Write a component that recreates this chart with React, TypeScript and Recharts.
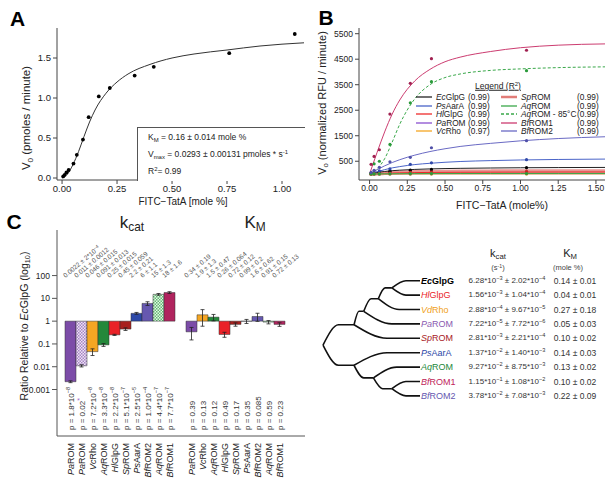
import React from "react";
import {
  ComposedChart,
  LineChart,
  BarChart,
  Line,
  Scatter,
  Bar,
  Cell,
  XAxis,
  YAxis,
  ErrorBar,
} from "recharts";

const FONT = "'Liberation Sans', Arial, Helvetica, sans-serif";

// ---------- panel A: single enzyme kinetics ----------
const aSubstrate = [0.005, 0.012, 0.02, 0.03, 0.052, 0.067, 0.095, 0.121, 0.167, 0.217, 0.33, 0.417, 0.76, 1.058];
const aRate = [0.02, 0.04, 0.07, 0.1, 0.18, 0.29, 0.48, 0.76, 1.02, 1.125, 1.28, 1.39, 1.56, 1.8];
const aFitX = [0, 0.025, 0.05, 0.075, 0.1, 0.125, 0.15, 0.2, 0.25, 0.3, 0.4, 0.5, 0.6, 0.75, 0.9, 1.1];
const aFitY = [0, 0.05, 0.17, 0.33, 0.52, 0.7, 0.85, 1.06, 1.2, 1.3, 1.42, 1.5, 1.55, 1.6, 1.65, 1.69];
const aTicksX = [0, 0.25, 0.5, 0.75, 1];
const aTicksY = [0, 0.5, 1, 1.5];

// ---------- panel B: all rhomboids ----------
const bSubstrate = [0.01, 0.03, 0.065, 0.135, 0.27, 0.41, 1.04];
const bFitX = [0, 0.05, 0.1, 0.15, 0.2, 0.3, 0.4, 0.5, 0.6, 0.8, 1.0, 1.25, 1.56];
const bTicksX = [0, 0.25, 0.5, 0.75, 1, 1.25, 1.5];
const bTicksY = [0, 500, 1000, 1500, 2000, 2500, 3000, 3500, 4000, 4500, 5000, 5500];

const bEcGlpGPts = [15, 30, 60, 110, 150, 180, 250];
const bEcGlpGFit = [0, 60, 100, 130, 150, 180, 200, 213, 222, 235, 245, 252, 258];
const bPsAarAPts = [20, 60, 120, 200, 380, 440, 560];
const bPsAarAFit = [0, 90, 170, 240, 290, 370, 420, 460, 490, 525, 550, 570, 585];
const bHlGlpGPts = [5, 10, 20, 40, 60, 70, 80];
const bHlGlpGFit = [0, 15, 28, 38, 45, 55, 62, 66, 69, 73, 76, 78, 80];
const bPaROMPts = [0, 2, 3, 5, 5, 8, 10];
const bPaROMFit = [0, 2, 3, 4, 5, 6, 7, 7, 8, 8, 9, 9, 9];
const bVcRhoPts = [0, 1, 2, 3, 4, 5, 5];
const bVcRhoFit = [0, 1, 2, 2, 3, 3, 3, 4, 4, 4, 4, 4, 4];
const bSpROMPts = [5, 15, 30, 50, 70, 90, 110];
const bSpROMFit = [0, 20, 35, 50, 60, 75, 85, 92, 97, 103, 107, 110, 112];
const bAqROMPts = [0, 5, 5, 10, 15, 20, 20];
const bAqROMFit = [0, 5, 8, 10, 12, 15, 17, 18, 19, 20, 21, 22, 22];
const bAqROM85Pts = [30, 400, 500, 1160, 2790, 3620, 4050];
const bAqROM85Fit = [0, 200, 600, 1250, 1950, 2950, 3500, 3780, 3920, 4060, 4120, 4170, 4200];
const bBfROM1Pts = [380, 690, 950, 2350, 3555, 4520, 4850];
const bBfROM1Fit = [0, 850, 1650, 2350, 2900, 3650, 4100, 4400, 4580, 4800, 4950, 5050, 5100];
const bBfROM2Pts = [60, 145, 260, 480, 655, 1030, 1305];
const bBfROM2Fit = [0, 170, 320, 450, 560, 740, 880, 990, 1080, 1200, 1300, 1390, 1460];

const bSeries = [
  { name: "SpROM", r2: "(0.99)", color: "#e27d79", dot: "#c0504a", w: 4, dash: undefined, pts: bSpROMPts, fit: bSpROMFit },
  { name: "EcGlpG", r2: "(0.99)", color: "#222222", dot: "#000000", w: 1, dash: undefined, pts: bEcGlpGPts, fit: bEcGlpGFit },
  { name: "PsAarA", r2: "(0.99)", color: "#4a64c8", dot: "#3048a8", w: 1, dash: undefined, pts: bPsAarAPts, fit: bPsAarAFit },
  { name: "HlGlpG", r2: "(0.99)", color: "#ee2a2a", dot: "#d02020", w: 1, dash: undefined, pts: bHlGlpGPts, fit: bHlGlpGFit },
  { name: "PaROM", r2: "(0.99)", color: "#8a4fd0", dot: "#7040b0", w: 1, dash: undefined, pts: bPaROMPts, fit: bPaROMFit },
  { name: "VcRho", r2: "(0.97)", color: "#f5a623", dot: "#e09010", w: 1, dash: undefined, pts: bVcRhoPts, fit: bVcRhoFit },
  { name: "AqROM", r2: "(0.99)", color: "#3aa84a", dot: "#2a9a3a", w: 1, dash: undefined, pts: bAqROMPts, fit: bAqROMFit },
  { name: "AqROM - 85°C", r2: "(0.99)", color: "#3aa84a", dot: "#2a9a3a", w: 1, dash: "3 2", pts: bAqROM85Pts, fit: bAqROM85Fit },
  { name: "BfROM1", r2: "(0.99)", color: "#cc3c70", dot: "#a02050", w: 1, dash: undefined, pts: bBfROM1Pts, fit: bBfROM1Fit },
  { name: "BfROM2", r2: "(0.99)", color: "#6a6ac4", dot: "#5050a8", w: 1, dash: undefined, pts: bBfROM2Pts, fit: bBfROM2Fit },
];
const bLegendLeft = ["EcGlpG", "PsAarA", "HlGlpG", "PaROM", "VcRho"];
const bLegendRight = ["SpROM", "AqROM", "AqROM - 85°C", "BfROM1", "BfROM2"];

// ---------- panel C: ratios relative to EcGlpG ----------
const kcatNames = ["PaROM", "PaROM", "VcRho", "AqROM", "HlGlpG", "SpROM", "PsAarA", "BfROM2", "AqROM", "BfROM1"];
const kcatHatched = [false, true, false, false, false, false, false, false, true, false];
const kcatRatio = [0.0022, 0.011, 0.046, 0.091, 0.25, 0.45, 2.2, 6, 15, 18];
const kcatErr = [0.0002, 0.0012, 0.015, 0.013, 0.015, 0.059, 0.21, 1.1, 1.3, 1.6];
const kcatLabels = [
  "0.0022 ± 2*10^-4", "0.011 ± 0.0012", "0.046 ± 0.015", "0.091 ± 0.013", "0.25 ± 0.015",
  "0.45 ± 0.059", "2.2 ± 0.21", "6 ± 1.1", "15 ± 1.3", "18 ± 1.6",
];
const kcatP = [
  "p = 1.8*10^-8", "p = 0.02", "p = 7.2*10^-8", "p = 3.3*10^-8", "p = 2.2*10^-8",
  "p = 5.1*10^-7", "p = 2.5*10^-5", "p = 1.0*10^-4", "p = 4.4*10^-7", "p = 7.7*10^-7",
];
const kmNames = ["PaROM", "VcRho", "AqROM", "HlGlpG", "SpROM", "PsAarA", "BfROM2", "AqROM", "BfROM1"];
const kmHatched = [false, false, false, false, false, false, false, true, false];
const kmRatio = [0.34, 1.9, 1.5, 0.26, 0.72, 0.99, 1.6, 0.91, 0.72];
const kmErr = [0.19, 1.3, 0.47, 0.064, 0.12, 0.2, 0.62, 0.15, 0.13];
const kmLabels = [
  "0.34 ± 0.19", "1.9 ± 1.3", "1.5 ± 0.47", "0.26 ± 0.064", "0.72 ± 0.12",
  "0.99 ± 0.2", "1.6 ± 0.62", "0.91 ± 0.15", "0.72 ± 0.13",
];
const kmP = ["p = 0.39", "p = 0.13", "p = 0.12", "p = 0.49", "p = 0.17", "p = 0.35", "p = 0.085", "p = 0.59", "p = 0.23"];
const cTicks = [-3, -2, -1, 0, 1, 2];
const cTickText: Record<number, string> = { "-3": "0.001", "-2": "0.01", "-1": "0.1", "0": "1", "1": "10", "2": "100" };

const enzymeColor: Record<string, string> = {
  PaROM: "#7c4ca8",
  VcRho: "#f5a623",
  AqROM: "#24883a",
  HlGlpG: "#ea2228",
  SpROM: "#a8201e",
  PsAarA: "#2c48a8",
  BfROM2: "#6658b0",
  BfROM1: "#b0245e",
};
const hatchFill: Record<string, string> = { PaROM: "url(#hatchPurple)", AqROM: "url(#hatchGreen)" };

// ---------- panel D: tree + constants ----------
const dNames = ["EcGlpG", "HlGlpG", "VdRho", "PaROM", "SpROM", "PsAarA", "AqROM", "BfROM1", "BfROM2"];
const dColors = ["#000000", "#ea2228", "#f0a020", "#8a5ab0", "#a8201e", "#2c48a8", "#24883a", "#c0245a", "#6658b0"];
const dKcat = [
  "6.28*10^-3 ± 2.02*10^-4", "1.56*10^-3 ± 1.04*10^-4", "2.88*10^-4 ± 9.67*10^-5",
  "7.22*10^-5 ± 7.72*10^-6", "2.81*10^-3 ± 2.21*10^-4", "1.37*10^-2 ± 1.40*10^-3",
  "9.27*10^-2 ± 8.75*10^-3", "1.15*10^-1 ± 1.08*10^-2", "3.78*10^-2 ± 7.08*10^-3",
];
const dKm = ["0.14 ± 0.01", "0.04 ± 0.01", "0.27 ± 0.18", "0.05 ± 0.03", "0.10 ± 0.02", "0.14 ± 0.03", "0.13 ± 0.02", "0.10 ± 0.02", "0.22 ± 0.09"];

type TreeNode = { d: number; c: (TreeNode | number)[] };
const treeRoot: TreeNode = {
  d: 0,
  c: [
    { d: 1.6, c: [{ d: 2.1, c: [{ d: 2.85, c: [{ d: 3.55, c: [0, 1] }, 2] }, 3] }, 4] },
    { d: 1.6, c: [5, { d: 2.6, c: [6, { d: 3.55, c: [7, 8] }] }] },
  ],
};
const LEAF_DEPTH = 5;

// ---------- helpers ----------
const splitExp = (t: string) => t.split(/\^(-?\d+)/);
const SUB = { fontSize: "0.7em", verticalAlign: "-0.3em", lineHeight: 0 };
const SUP = { fontSize: "0.7em", verticalAlign: "0.45em", lineHeight: 0 };

function HtmlRich({ t }: { t: string }) {
  return (
    <>
      {splitExp(t).map((p, i) =>
        i % 2 ? (
          <sup key={i} style={SUP}>{p.replace("-", "−")}</sup>
        ) : (
          <React.Fragment key={i}>{p}</React.Fragment>
        )
      )}
    </>
  );
}

function svgRich(t: string, fs: number) {
  const out: any[] = [];
  splitExp(t).forEach((p, i) => {
    if (i % 2) {
      out.push(<tspan key={i} dy={-fs * 0.35} fontSize={fs * 0.7}>{p.replace("-", "−")}</tspan>);
    } else {
      out.push(<tspan key={i} dy={i > 0 ? fs * 0.35 : 0}>{p}</tspan>);
    }
  });
  return out;
}

const Species = ({ n }: { n: string }) => (
  <>
    <i>{n.slice(0, 2)}</i>
    {n.slice(2)}
  </>
);

function Txt({ x, y, children, size = 10, anchor = "start", rotate = 0, style = {} }: any) {
  const tx = anchor === "middle" ? "-50%" : anchor === "end" ? "-100%" : "0";
  return (
    <div
      style={{
        position: "absolute",
        left: x,
        top: y,
        fontSize: size,
        lineHeight: 1,
        whiteSpace: "nowrap",
        color: "#222",
        transform: `translate(${tx}, -50%) rotate(${rotate}deg)`,
        transformOrigin: anchor === "middle" ? "50% 50%" : "0 50%",
        ...style,
      }}
    >
      {children}
    </div>
  );
}

const tickStyle = (fs: number) => ({ fontSize: fs, fill: "#222", fontFamily: FONT });

// ---------- panels ----------
function PanelA() {
  const pts = aSubstrate.map((x, i) => ({ x, y: aRate[i] }));
  const fit = aFitX.map((x, i) => ({ x, y: aFitY[i] }));
  return (
    <div style={{ position: "absolute", left: 0, top: 0 }}>
      <ComposedChart width={310} height={215} margin={{ top: 28, right: 6, bottom: 15, left: 17 }}>
        <XAxis type="number" dataKey="x" domain={[-0.023, 1.1]} allowDataOverflow ticks={aTicksX}
          tickFormatter={(v: number) => v.toFixed(2)} height={20} tickSize={4} tickMargin={1}
          tick={tickStyle(9.5)} stroke="#444" />
        <YAxis type="number" dataKey="y" domain={[-0.025, 1.875]} allowDataOverflow ticks={aTicksY}
          tickFormatter={(v: number) => v.toFixed(1)} width={40} tickSize={4} tickMargin={2}
          tick={tickStyle(9.5)} stroke="#444" />
        <XAxis xAxisId="top" orientation="top" type="number" domain={[0, 1]} height={0} tick={false} tickLine={false} stroke="#444" />
        <YAxis yAxisId="right" orientation="right" type="number" domain={[0, 1]} width={0} tick={false} tickLine={false} stroke="#444" />
        <Line data={fit} dataKey="y" type="monotone" dot={false} stroke="#333" strokeWidth={1} isAnimationActive={false} />
        <Scatter data={pts} dataKey="y" isAnimationActive={false}
          shape={(p: any) => <circle cx={p.cx} cy={p.cy} r={1.9} fill="#000" />} />
      </ComposedChart>
    </div>
  );
}

function PanelB() {
  return (
    <div style={{ position: "absolute", left: 310, top: 0 }}>
      <ComposedChart width={304} height={215} margin={{ top: 28, right: 9, bottom: 15, left: 13 }}>
        <XAxis type="number" dataKey="x" domain={[-0.07, 1.56]} allowDataOverflow ticks={bTicksX}
          tickFormatter={(v: number) => v.toFixed(2)} height={20} tickSize={4} tickMargin={1}
          tick={tickStyle(8.5)} stroke="#444" />
        <YAxis type="number" dataKey="y" domain={[-235, 5723]} allowDataOverflow ticks={bTicksY}
          width={36} tickSize={4} tickMargin={2} tick={tickStyle(8.5)} stroke="#444" />
        <XAxis xAxisId="top" orientation="top" type="number" domain={[0, 1]} height={0} tick={false} tickLine={false} stroke="#444" />
        <YAxis yAxisId="right" orientation="right" type="number" domain={[0, 1]} width={0} tick={false} tickLine={false} stroke="#444" />
        {bSeries.map((s) => (
          <Line key={"l" + s.name} data={bFitX.map((x, i) => ({ x, y: s.fit[i] }))} dataKey="y" type="monotone"
            dot={false} stroke={s.color} strokeWidth={s.w} strokeOpacity={s.w > 1 ? 0.8 : 1}
            strokeDasharray={s.dash} isAnimationActive={false} />
        ))}
        {bSeries.map((s) => (
          <Scatter key={"p" + s.name} data={bSubstrate.map((x, i) => ({ x, y: s.pts[i] }))} dataKey="y"
            isAnimationActive={false}
            shape={(p: any) => <circle cx={p.cx} cy={p.cy} r={1.6} fill={s.dot} />} />
        ))}
      </ComposedChart>
    </div>
  );
}

function LegendRow({ s, x, y, r2x }: any) {
  return (
    <>
      <svg style={{ position: "absolute", left: x, top: y - 3 }} width={16} height={6}>
        <line x1={0} y1={3} x2={16} y2={3} stroke={s.color} strokeWidth={s.w > 1 ? 2.5 : 1.3} strokeDasharray={s.dash} />
      </svg>
      <Txt x={x + 20} y={y} size={8.3}><Species n={s.name} /></Txt>
      <Txt x={r2x} y={y} size={8.3}>{s.r2}</Txt>
    </>
  );
}

const cRows = [
  ...kcatNames.map((n, i) => ({
    key: "k" + i, name: n, ratio: kcatRatio[i], err: kcatErr[i], label: kcatLabels[i], p: kcatP[i],
    star: i === 1, fill: kcatHatched[i] ? hatchFill[n] : enzymeColor[n],
  })),
  { key: "gap", name: "", ratio: null as any, err: 0, label: "", p: "", star: false, fill: "none" },
  ...kmNames.map((n, i) => ({
    key: "m" + i, name: n, ratio: kmRatio[i], err: kmErr[i], label: kmLabels[i], p: kmP[i],
    star: false, fill: kmHatched[i] ? hatchFill[n] : enzymeColor[n],
  })),
].map((r) => ({
  ...r,
  logv: r.ratio == null ? null : Math.log10(r.ratio),
  errLog: r.ratio == null ? [0, 0] : [Math.log10(r.ratio) - Math.log10(r.ratio - r.err), Math.log10(r.ratio + r.err) - Math.log10(r.ratio)],
}));
const cByKey: Record<string, any> = Object.fromEntries(cRows.map((r) => [r.key, r]));

// draws, per category: the value label above the bars, the p-value inside the box and the name below it
function CTick(props: any) {
  const { x, y, payload } = props;
  const r = cByKey[payload.value];
  if (!r || !r.name) return null;
  const ny = y + 7;
  const py = y - 6;
  const lx = x - 5;
  const ly = y - 158;
  return (
    <g fontFamily={FONT}>
      <text x={x} y={ny} transform={`rotate(-90 ${x} ${ny})`} textAnchor="end" dominantBaseline="central" fontSize={9} fill="#222">
        <tspan fontStyle="italic">{r.name.slice(0, 2)}</tspan>
        <tspan>{r.name.slice(2)}</tspan>
      </text>
      <text x={x} y={py} transform={`rotate(-90 ${x} ${py})`} textAnchor="start" dominantBaseline="central" fontSize={8} fill="#333">
        {svgRich(r.p, 8)}
        {r.star ? <tspan dy={-3} fill="#9a5ac8" fontSize={7}>*</tspan> : null}
      </text>
      <text x={lx} y={ly} transform={`rotate(-40 ${lx} ${ly})`} textAnchor="start" fontSize={6.5} fill="#555">
        {svgRich(r.label, 6.5)}
      </text>
    </g>
  );
}

function PanelC() {
  return (
    <div style={{ position: "absolute", left: 0, top: 215 }}>
      <BarChart width={310} height={270} data={cRows} margin={{ top: 15, right: 5, bottom: 0, left: 0 }}
        barCategoryGap={0} barGap={0}>
        <defs>
          <pattern id="hatchPurple" width="3" height="3" patternUnits="userSpaceOnUse">
            <rect width="3" height="3" fill="#efe4f5" />
            <rect width="1.5" height="1.5" fill="#a585c5" />
            <rect x="1.5" y="1.5" width="1.5" height="1.5" fill="#a585c5" />
          </pattern>
          <pattern id="hatchGreen" width="3" height="3" patternUnits="userSpaceOnUse">
            <rect width="3" height="3" fill="#e4f6e6" />
            <rect width="1.5" height="1.5" fill="#62b872" />
            <rect x="1.5" y="1.5" width="1.5" height="1.5" fill="#62b872" />
          </pattern>
        </defs>
        <XAxis dataKey="key" type="category" interval={0} height={49} padding={{ left: 8, right: 20 }}
          tickSize={0} tickMargin={0} tickLine={false} stroke="#555" tick={CTick} />
        <XAxis xAxisId="top" orientation="top" type="number" domain={[0, 1]} height={0}
          tick={false} tickLine={false} stroke="#555" />
        <YAxis type="number" domain={[-5.04, 4.0]} allowDataOverflow ticks={cTicks} width={57}
          tickFormatter={(v: number) => cTickText[v] ?? ""} tickSize={5} tickMargin={2}
          tick={tickStyle(8.5)} stroke="#555" />
        <YAxis yAxisId="right" orientation="right" type="number" domain={[0, 1]} width={0} tick={false} tickLine={false} stroke="#555" />
        <Bar dataKey="logv" isAnimationActive={false} stroke="#333" strokeWidth={0.5}>
          {cRows.map((r) => (
            <Cell key={r.key} fill={r.fill} />
          ))}
          <ErrorBar dataKey="errLog" direction="y" width={2} stroke="#222" strokeWidth={0.8} />
        </Bar>
      </BarChart>
    </div>
  );
}

function PanelDTree() {
  const edges: { x: number; y: number }[][] = [];
  const place = (node: TreeNode): { x: number; y: number } => {
    const kids = node.c.map((ch) => (typeof ch === "number" ? { x: LEAF_DEPTH, y: ch } : place(ch)));
    const y = kids.reduce((a, k) => a + k.y, 0) / kids.length;
    kids.forEach((k) =>
      edges.push([{ x: node.d, y }, { x: node.d + 0.5 * (k.x - node.d), y: k.y }, { x: k.x, y: k.y }])
    );
    return { x: node.d, y };
  };
  place(treeRoot);
  return (
    <div style={{ position: "absolute", left: 300, top: 260 }}>
      <LineChart width={130} height={150} margin={{ top: 20.7, right: 10, bottom: 14.1, left: 23 }}>
        <XAxis type="number" dataKey="x" domain={[0, LEAF_DEPTH]} hide />
        <YAxis type="number" domain={[0, dNames.length - 1]} reversed hide />
        {edges.map((e, i) => (
          <Line key={i} data={e} dataKey="y" type="monotoneX" dot={false} stroke="#111" strokeWidth={1.6} isAnimationActive={false} />
        ))}
      </LineChart>
    </div>
  );
}

export default function App() {
  const rowY = (i: number) => 280.7 + i * 14.4;
  const seriesByName: Record<string, any> = Object.fromEntries(bSeries.map((s) => [s.name, s]));
  return (
    <div style={{ position: "absolute", left: 0, top: 0, width: 614, height: 485, background: "#fff", fontFamily: FONT, overflow: "hidden" }}>
      <PanelA />
      <PanelB />
      <PanelC />
      <PanelDTree />

      {/* panel letters */}
      <Txt x={17.5} y={18} size={21} anchor="middle" style={{ fontWeight: 700, color: "#000" }}>A</Txt>
      <Txt x={326} y={17} size={21} anchor="middle" style={{ fontWeight: 700, color: "#000" }}>B</Txt>
      <Txt x={14} y={221} size={21} anchor="middle" style={{ fontWeight: 700, color: "#000" }}>C</Txt>

      {/* panel A text */}
      <Txt x={27} y={118} size={11.5} anchor="middle" rotate={-90}>
        V<sub style={SUB}>0</sub> (pmoles / minute)
      </Txt>
      <Txt x={183} y={202} size={10} anchor="middle">FITC−TatA [mole %]</Txt>
      <div style={{ position: "absolute", left: 137, top: 127, width: 167, height: 53, borderLeft: "1px solid #555", borderTop: "1px solid #555", background: "#fff" }} />
      <Txt x={148} y={137} size={8.5}>
        K<sub style={SUB}>M</sub> = 0.16 ± 0.014 mole %
      </Txt>
      <Txt x={148} y={154} size={8.5}>
        V<sub style={SUB}>max</sub> = 0.0293 ± 0.00131 pmoles * s<sup style={SUP}>-1</sup>
      </Txt>
      <Txt x={148} y={171} size={8.5}>
        R<sup style={SUP}>2</sup>= 0.99
      </Txt>

      {/* panel B text */}
      <Txt x={322} y={103} size={11} anchor="middle" rotate={-90}>
        V<sub style={SUB}>o</sub> (normalized RFU / minute)
      </Txt>
      <Txt x={502} y={205} size={10.5} anchor="middle">FITC−TatA (mole%)</Txt>
      <Txt x={498} y={86} size={8.5} anchor="middle" style={{ textDecoration: "underline" }}>
        Legend (R<sup style={SUP}>2</sup>)
      </Txt>
      {bLegendLeft.map((n, i) => (
        <LegendRow key={n} s={seriesByName[n]} x={416} y={97 + i * 8.5} r2x={468} />
      ))}
      {bLegendRight.map((n, i) => (
        <LegendRow key={n} s={seriesByName[n]} x={501} y={97 + i * 8.5} r2x={577} />
      ))}

      {/* panel C text */}
      <Txt x={132} y={222} size={17} anchor="middle">
        k<sub style={SUB}>cat</sub>
      </Txt>
      <Txt x={255} y={222} size={17} anchor="middle">
        K<sub style={SUB}>M</sub>
      </Txt>
      <Txt x={24} y={326} size={10.5} anchor="middle" rotate={-90}>
        Ratio Relative to <i>Ec</i>GlpG (log<sub style={SUB}>10</sub>)
      </Txt>

      {/* panel D text */}
      <Txt x={498} y={253} size={11} anchor="middle">
        k<sub style={SUB}>cat</sub>
      </Txt>
      <Txt x={498} y={268} size={7.5} anchor="middle" style={{ color: "#444" }}>
        (s<sup style={SUP}>-1</sup>)
      </Txt>
      <Txt x={570} y={253} size={11} anchor="middle">
        K<sub style={SUB}>M</sub>
      </Txt>
      <Txt x={568} y={268} size={7.5} anchor="middle" style={{ color: "#444" }}>(mole %)</Txt>
      {dNames.map((n, i) => (
        <React.Fragment key={n}>
          <Txt x={421} y={rowY(i)} size={9} style={{ color: dColors[i], fontWeight: i === 0 ? 700 : 400 }}>
            <Species n={n} />
          </Txt>
          <Txt x={507} y={rowY(i)} size={8} anchor="middle" style={{ color: "#333" }}>
            <HtmlRich t={dKcat[i]} />
          </Txt>
          <Txt x={575} y={rowY(i)} size={8.5} anchor="middle" style={{ color: "#333" }}>
            {dKm[i]}
          </Txt>
        </React.Fragment>
      ))}
    </div>
  );
}
